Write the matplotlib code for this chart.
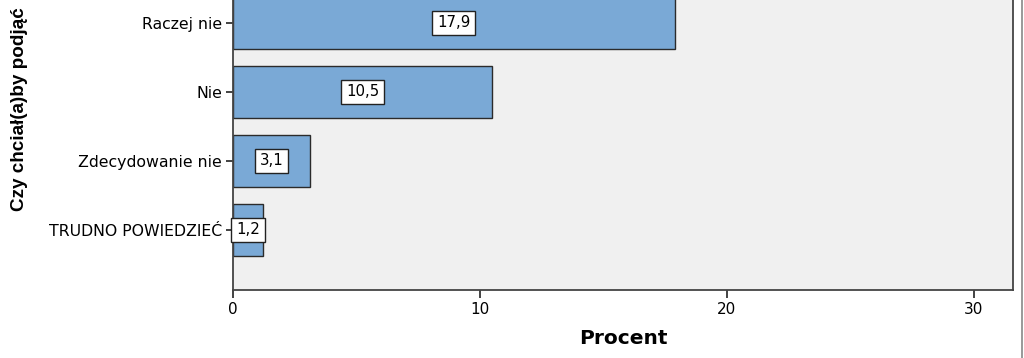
import matplotlib

matplotlib.use("Agg")
import matplotlib.pyplot as plt
from matplotlib.lines import Line2D

categories = ["Raczej nie", "Nie", "Zdecydowanie nie", "TRUDNO POWIEDZIEĆ"]
values = [17.9, 10.5, 3.1, 1.2]
value_labels = ["17,9", "10,5", "3,1", "1,2"]
xticks = [0, 10, 20, 30]

plt.rcParams["font.family"] = ["DejaVu Sans"]

W, H = 1024, 358
fig = plt.figure(figsize=(W / 100, H / 100), dpi=100)
fig.patch.set_facecolor("white")

# axes extends above the figure top (reference is cropped)
ylo, yhi = -0.87, 4.0
px_per_cat = 69
ax_bottom = (H - 290) / H
ax_height = (yhi - ylo) * px_per_cat / H
ax = fig.add_axes([233 / W, ax_bottom, (1013 - 233) / W, ax_height])
ax.set_facecolor("#f0f0f0")

pos = list(range(len(categories)))[::-1]
ax.barh(pos, values, height=0.74, color="#7aa9d6", edgecolor="#2b2b2b", linewidth=1.0, zorder=2)
for p, v, lab in zip(pos, values, value_labels):
    ax.text(v / 2, p, lab, ha="center", va="center", fontsize=10.8, zorder=3,
            bbox=dict(boxstyle="square,pad=0.32", facecolor="white", edgecolor="#222222", linewidth=1.0))

ax.set_xlim(0, 31.6)
ax.set_ylim(ylo, yhi)
ax.set_yticks(pos)
ax.set_yticklabels(categories, fontsize=11.3)
ax.set_xticks(xticks)
ax.set_xticklabels([str(t) for t in xticks], fontsize=11)
ax.tick_params(axis="y", length=5, width=1.2, color="#222222", pad=3)
ax.tick_params(axis="x", length=6, width=1.2, color="#222222", pad=3)
for side in ["left", "bottom", "right", "top"]:
    ax.spines[side].set_color("#444444")
    ax.spines[side].set_linewidth(1.3)

ax.set_xlabel("Procent", fontsize=14.5, fontweight="bold", labelpad=8)
fig.text(20 / W, (H - 211) / H, "Czy chciał(a)by podjąć",
         rotation=90, ha="center", va="bottom", fontsize=13.6, fontweight="bold",
         family=["Liberation Sans", "DejaVu Sans"])

fig.add_artist(Line2D([1022 / W, 1022 / W], [0, 1], transform=fig.transFigure,
                      color="#888888", linewidth=1.2))

fig.savefig("out.png", dpi=100)
